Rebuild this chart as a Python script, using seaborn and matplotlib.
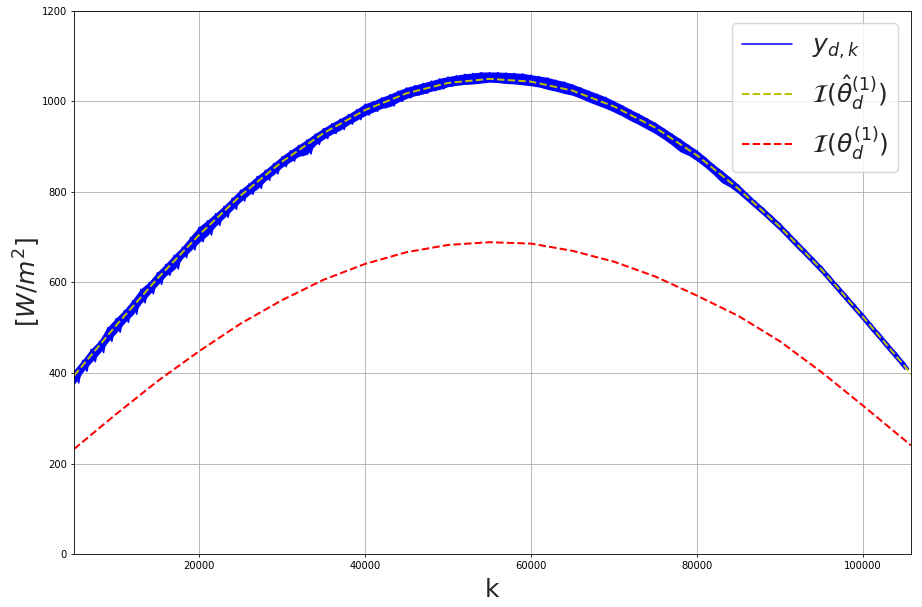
import numpy as np
import pandas as pd
import matplotlib
matplotlib.use("Agg")
import matplotlib.pyplot as plt
import seaborn as sns

# ---- data ----
fit_k = [4940, 10000, 15000, 20000, 25000, 30000, 35000, 40000, 45000, 50000, 55000,
         60000, 65000, 70000, 75000, 80000, 85000, 90000, 95000, 100000, 105000, 105780]
fit_hat = [394, 505, 609, 705, 792, 867, 930, 981, 1018, 1041, 1050,
           1044, 1024, 989, 942, 881, 807, 723, 629, 524, 416, 397]
fit_true = [232, 309, 382, 448, 509, 561, 606, 641, 667, 683, 689,
            686, 670, 646, 613, 571, 526, 470, 402, 328, 252, 240]

# measured signal: upper / lower envelope every 1000 samples
meas_k = list(range(5000, 106000, 1000))
meas_hi = [406, 428, 452, 470, 500, 520, 538, 560, 585, 600,
           622, 640, 660, 678, 700, 722, 736, 752, 768, 786,
           804, 818, 834, 848, 863, 878, 891, 903, 915, 928,
           940, 951, 961, 971, 982, 994, 1000, 1008, 1015, 1023,
           1030, 1035, 1040, 1045, 1050, 1054, 1057, 1060, 1062, 1064,
           1064, 1064, 1063, 1062, 1061, 1058, 1055, 1052, 1047, 1043,
           1037, 1030, 1023, 1016, 1009, 1000, 991, 981, 972, 962,
           952, 940, 928, 916, 903, 891, 876, 860, 846, 831,
           815, 797, 780, 764, 747, 730, 711, 692, 673, 654,
           635, 614, 593, 572, 551, 530, 508, 487, 465, 444, 422]
meas_lo = [378, 404, 425, 445, 470, 490, 512, 530, 555, 575,
           596, 616, 630, 655, 672, 690, 705, 726, 744, 762,
           780, 795, 808, 826, 840, 856, 868, 880, 884, 905,
           918, 929, 938, 950, 960, 970, 978, 986, 990, 1000,
           1008, 1014, 1018, 1024, 1028, 1034, 1037, 1039, 1040, 1042,
           1044, 1043, 1041, 1040, 1038, 1036, 1033, 1028, 1024, 1019,
           1015, 1008, 1000, 993, 986, 978, 969, 959, 950, 940,
           930, 918, 905, 890, 882, 870, 856, 840, 822, 812,
           798, 782, 766, 750, 733, 716, 697, 678, 660, 641,
           622, 601, 580, 559, 538, 517, 495, 474, 452, 431, 409]

# ---- build tables ----
mk = np.array(meas_k, dtype=float)
mx = np.ravel(np.column_stack([mk, mk + 500]))
my = np.ravel(np.column_stack([meas_hi, meas_lo]))
meas = pd.DataFrame({"k": mx, "y": my})
fit = pd.DataFrame({"k": fit_k, "hat": fit_hat, "true": fit_true})

sns.set_style("white")
plt.rcParams["mathtext.fontset"] = "dejavusans"

fig = plt.figure(figsize=(9.22, 6.07), dpi=100)
ax = fig.add_axes([0.0803, 0.0873, 0.9077, 0.8946])

# measured band + zig-zag line
ax.fill_between(mk, meas_lo, meas_hi, color="b", lw=0.8, edgecolor="b")
sns.lineplot(data=meas, x="k", y="y", ax=ax, color="b", lw=1.1,
             estimator=None, sort=False, label=r"$y_{d,k}$")
sns.lineplot(data=fit, x="k", y="hat", ax=ax, color="y", lw=1.45, dashes=False,
             linestyle="--", estimator=None, label=r"$\mathcal{I}(\hat{\theta}_d^{(1)})$")
sns.lineplot(data=fit, x="k", y="true", ax=ax, color="r", lw=1.45, dashes=False,
             linestyle="--", estimator=None, label=r"$\mathcal{I}(\theta_d^{(1)})$")

ax.set_xlim(4940, 105780)
ax.set_ylim(0, 1200)
ax.set_xticks([20000, 40000, 60000, 80000, 100000])
ax.set_yticks(range(0, 1201, 200))
ax.tick_params(labelsize=7.2, length=2.5, width=0.6, pad=2.5,
               direction="out", left=True, bottom=True, colors="black")
ax.grid(True, color="#b0b0b0", lw=0.6)
for s in ax.spines.values():
    s.set_color("black")
    s.set_linewidth(0.6)
ax.set_xlabel("k", fontsize=18)
ax.set_ylabel(r"$[W/m^2]$", fontsize=18)
ax.xaxis.set_label_coords(0.5, -0.045, transform=ax.transAxes)
ax.yaxis.set_label_coords(-0.0375, 0.5, transform=ax.transAxes)
ax.xaxis.label.set_verticalalignment("top")
ax.yaxis.label.set_verticalalignment("bottom")
ax.legend(loc="upper right", fontsize=18, framealpha=0.8)

fig.savefig("out.png", dpi=100)
